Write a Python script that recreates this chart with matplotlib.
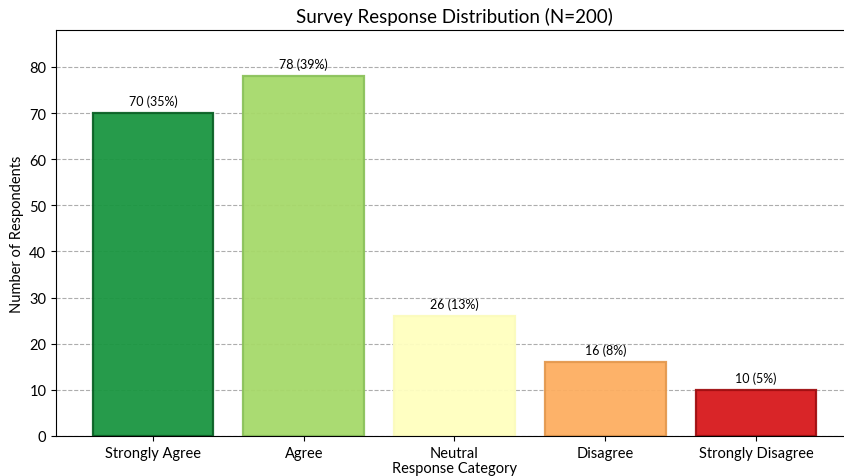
import matplotlib
matplotlib.use("Agg")
import matplotlib.pyplot as plt
import numpy as np

categories = ["Strongly Agree", "Agree", "Neutral", "Disagree", "Strongly Disagree"]
counts = [70, 78, 26, 16, 10]
total = 200
colors = ["#1a9641", "#a6d96a", "#ffffbf", "#fdae61", "#d7191c"]
edge_colors = ["#0c6227", "#8cc25c", "#fbfbbd", "#e4994f", "#a00f12"]

plt.rcParams['font.family'] = ['Lato', 'DejaVu Sans']

fig = plt.figure(figsize=(8.45, 4.77), dpi=100)
ax = fig.add_axes([56/845, 1-437/477, 797/845, (437-31)/477])

x = np.arange(len(categories))
ax.bar(x, counts, width=0.8, color=colors, edgecolor=edge_colors, linewidth=1.6, alpha=0.95, zorder=2)
for xi, c in zip(x, counts):
    ax.text(xi, c + 1.3, f"{c} ({round(c/total*100)}%)", ha='center', va='bottom', fontsize=9)

ax.set_xticks(x)
ax.set_xticklabels(categories, fontsize=10.5)
ax.set_xlim(-0.643, 4.643)
ax.set_ylim(0, 88)
ax.set_yticks(range(0, 81, 10))
ax.tick_params(axis='y', labelsize=10.5)
ax.yaxis.grid(True, linestyle='--', color='#999999', alpha=0.8, linewidth=0.8, zorder=0)
ax.set_axisbelow(True)
ax.set_xlabel("Response Category", fontsize=10.5, labelpad=1)
ax.set_ylabel("Number of Respondents", fontsize=10.5)
ax.set_title("Survey Response Distribution (N=200)", fontsize=13.5, pad=6)

fig.savefig("out.png", dpi=100)
